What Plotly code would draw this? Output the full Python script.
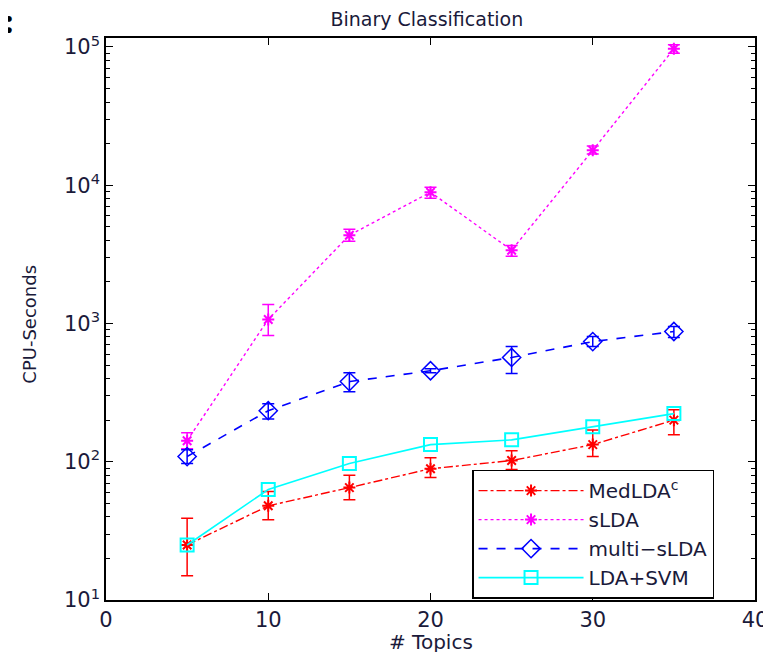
import plotly.graph_objects as go

topics = [5, 10, 15, 20, 25, 30, 35]

medlda = [25, 48, 65, 89, 102, 133, 200]
medlda_hi = [39, 61, 80, 107, 120, 170, 238]
medlda_lo = [15, 38, 53, 77, 88, 109, 157]

slda = [142, 1070, 4350, 8900, 3390, 17900, 97000]
slda_hi = [162, 1374, 4800, 9690, 3670, 19200, 104000]
slda_lo = [124, 818, 3930, 8050, 3060, 16800, 90000]

multi = [109, 234, 380, 455, 568, 740, 875]
multi_hi = [122, 263, 441, 470, 681, 805, 951]
multi_lo = [97, 204, 321, 440, 435, 681, 792]

ldasvm = [25, 63, 97, 133, 144, 179, 223]

y_ticks = [10, 100, 1000, 10000, 100000]
y_ticktext = ["10<sup>1</sup>", "10<sup>2</sup>", "10<sup>3</sup>", "10<sup>4</sup>", "10<sup>5</sup>"]
y_minor = [m * d for d in (10, 100, 1000, 10000) for m in range(2, 10)]
x_ticks = [0, 10, 20, 30, 40]

FONT = "DejaVu Sans, Liberation Sans, Arial, sans-serif"
TXT = "#1a1a3a"


def errs(v, hi, lo):
    return dict(type="data", symmetric=False,
                array=[h - c for h, c in zip(hi, v)],
                arrayminus=[c - l for c, l in zip(v, lo)],
                thickness=1.5, width=6)


fig = go.Figure()
fig.add_trace(go.Scatter(
    x=topics, y=medlda, name="MedLDA<sup>c</sup>", mode="lines+markers",
    line=dict(color="#ff0000", dash="dashdot", width=1.4),
    marker=dict(symbol="asterisk-open", size=10, color="#ff0000", line=dict(color="#ff0000", width=2)),
    error_y=dict(errs(medlda, medlda_hi, medlda_lo), color="#ff0000")))
fig.add_trace(go.Scatter(
    x=topics, y=slda, name="sLDA", mode="lines+markers",
    line=dict(color="#ff00ff", dash="dot", width=1.4),
    marker=dict(symbol="asterisk-open", size=10, color="#ff00ff", line=dict(color="#ff00ff", width=2)),
    error_y=dict(errs(slda, slda_hi, slda_lo), color="#ff00ff")))
fig.add_trace(go.Scatter(
    x=topics, y=multi, name="multi\u2212sLDA", mode="lines+markers",
    line=dict(color="#0000ff", dash="dash", width=1.6),
    marker=dict(symbol="diamond-open", size=14, color="#0000ff", line=dict(color="#0000ff", width=1.5)),
    error_y=dict(errs(multi, multi_hi, multi_lo), color="#0000ff")))
fig.add_trace(go.Scatter(
    x=topics, y=ldasvm, name="LDA+SVM", mode="lines+markers",
    line=dict(color="#00ffff", dash="solid", width=1.6),
    marker=dict(symbol="square-open", size=13, color="#00ffff", line=dict(color="#00ffff", width=2))))

# page body has an 8px margin, so the figure is sized/offset to fit the 771x652 window
fig.update_layout(
    width=763, height=644,
    margin=dict(l=98, r=16, t=30, b=52, autoexpand=False),
    paper_bgcolor="white", plot_bgcolor="white",
    font=dict(family=FONT, color=TXT, size=20),
    title=dict(text="Binary Classification", x=0.549, xanchor="center", y=0.982, yanchor="middle",
               font=dict(size=19, color=TXT)),
    showlegend=True,
    legend=dict(x=0.564, y=0.232, xanchor="left", yanchor="top",
                bordercolor="black", borderwidth=1.5, bgcolor="white",
                font=dict(size=20, color=TXT), tracegroupgap=0, itemwidth=105),
    annotations=[
        dict(text="<b>s:</b>", xref="paper", yref="paper", x=-0.137, y=1.03,
             xanchor="right", yanchor="middle", showarrow=False,
             font=dict(family="Liberation Serif, serif", size=36, color="black")),
        dict(text="# Topics", xref="paper", yref="paper", x=0.5, y=-0.074,
             xanchor="center", yanchor="middle", showarrow=False,
             font=dict(size=20, color=TXT)),
        dict(text="CPU-Seconds", xref="paper", yref="paper", x=-0.117, y=0.49,
             xanchor="center", yanchor="middle", showarrow=False, textangle=-90,
             font=dict(size=18, color=TXT)),
    ],
)
fig.update_xaxes(
    range=[0, 40], tickvals=x_ticks, ticks="inside", ticklen=7, tickcolor="black",
    showline=True, linecolor="black", linewidth=1.5, mirror="allticks", showgrid=False, zeroline=False,
    automargin=False, tickfont=dict(size=21, color=TXT))
fig.update_yaxes(
    type="log", range=[1, 5.065], tickvals=y_ticks, ticktext=y_ticktext, ticks="inside", ticklen=7,
    tickcolor="black", showline=True, linecolor="black", linewidth=1.5, mirror="allticks",
    showgrid=False, zeroline=False, automargin=False,
    minor=dict(tickvals=y_minor, ticks="inside", ticklen=4, tickcolor="black", showgrid=False),
    tickfont=dict(size=21, color=TXT))

fig.write_html("out.html")
